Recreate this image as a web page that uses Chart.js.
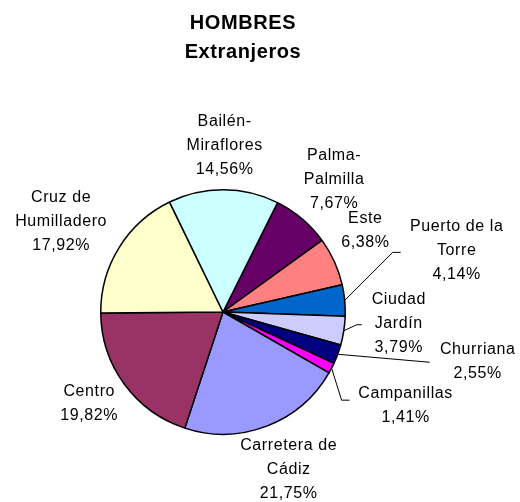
<!DOCTYPE html>
<html>
<head>
<meta charset="utf-8">
<script src="https://cdn.jsdelivr.net/npm/chart.js@4/dist/chart.umd.min.js"></script>
<style>
  body { margin: 0; background: #fff; }
</style>
</head>
<body>
<canvas id="pieChart" width="520" height="502"></canvas>
<script>
const districts = ["Palma-Palmilla", "Este", "Puerto de la Torre", "Ciudad Jardín", "Churriana",
                   "Campanillas", "Carretera de Cádiz", "Centro", "Cruz de Humilladero", "Bailén-Miraflores"];
const shares = [7.67, 6.38, 4.14, 3.79, 2.55, 1.41, 21.75, 19.82, 17.92, 14.56]; // % of total
const sliceColors = ["#660066", "#FF8080", "#0066CC", "#CCCCFF", "#000080",
                     "#FF00FF", "#9999FF", "#993366", "#FFFFCC", "#CCFFFF"];
const titleLines = ["HOMBRES", "Extranjeros"];

// how each name is broken into lines
const nameLines = [["Palma-", "Palmilla"], ["Este"], ["Puerto de la", "Torre"], ["Ciudad", "Jardín"],
                   ["Churriana"], ["Campanillas"], ["Carretera de", "Cádiz"], ["Centro"],
                   ["Cruz de", "Humilladero"], ["Bailén-", "Miraflores"]];
// label centre, relative to the outer middle of its slice
const labelShift = [[32, -39], [31, -31], [112, -50], [55, -7], [140, 7],
                    [74, 37], [22, 43], [-35, 20], [-58, -26], [1, -44]];
// leader line points, relative to the label centre
const leaders = { 2: [[-64, 2], [-56, 2]], 3: [[-42, 1], [-37, 1]], 4: [[-48, 1]], 5: [[-64, -5], [-56, -5]] };

const labelPlugin = {
    id: "pieLabels",
    afterDraw(chart) {
        const ctx = chart.ctx;
        ctx.save();
        ctx.fillStyle = "#000";
        ctx.textAlign = "center";
        ctx.textBaseline = "middle";

        // title
        ctx.font = "bold 20px 'Liberation Sans', Arial, sans-serif";
        ctx.letterSpacing = "0.6px";
        ctx.fillText(titleLines[0], 243, 23);
        ctx.fillText(titleLines[1], 243, 52);

        ctx.font = "16px 'Liberation Sans', Arial, sans-serif";
        ctx.letterSpacing = "0.6px";
        ctx.strokeStyle = "#000";
        ctx.lineWidth = 1;
        const meta = chart.getDatasetMeta(0);
        meta.data.forEach((arc, i) => {
            const p = arc.getProps(["x", "y", "startAngle", "endAngle", "outerRadius"], true);
            const mid = (p.startAngle + p.endAngle) / 2;
            const ex = p.x + p.outerRadius * Math.cos(mid);
            const ey = p.y + p.outerRadius * Math.sin(mid);
            const cx = ex + labelShift[i][0];
            const cy = ey + labelShift[i][1];

            const lines = nameLines[i].concat([shares[i].toFixed(2).replace(".", ",") + "%"]);
            const lh = 24;
            const top = cy - (lines.length - 1) * lh / 2;
            lines.forEach((t, k) => ctx.fillText(t, cx, top + k * lh));

            if (leaders[i]) {
                ctx.beginPath();
                ctx.moveTo(ex, ey);
                leaders[i].forEach(pt => ctx.lineTo(cx + pt[0], cy + pt[1]));
                ctx.stroke();
            }
        });
        ctx.restore();
    }
};

new Chart("pieChart", {
    type: "pie",
    data: {
        labels: districts,
        datasets: [{
            data: shares,
            backgroundColor: sliceColors,
            borderColor: "#000",
            borderWidth: 1.5
        }]
    },
    options: {
        responsive: false,
        animation: false,
        rotation: 26.5,
        layout: { padding: { top: 189, bottom: 67, left: 100, right: 174 } },
        plugins: {
            legend: { display: false },
            tooltip: { enabled: false }
        }
    },
    plugins: [labelPlugin]
});
</script>
</body>
</html>
